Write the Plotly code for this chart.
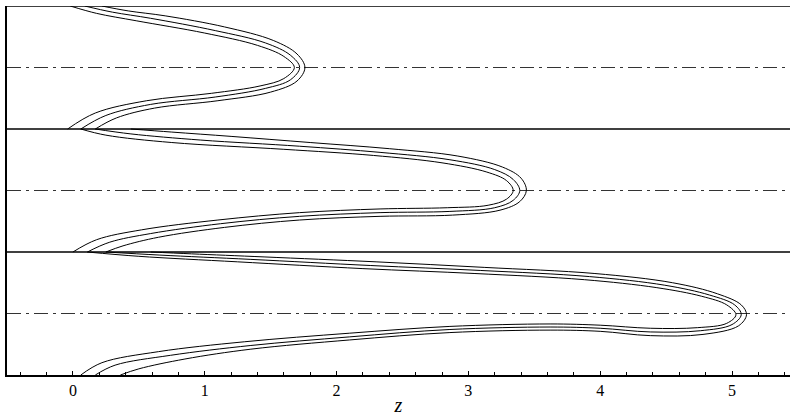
import plotly.graph_objects as go

# ---------------- data (z, transverse coordinate) ----------------
# top layer (between y=2 and y=3)
top_inner_x = [-0.02, 0.18, 0.48, 1.00, 1.40, 1.60, 1.68, 1.60, 1.42, 1.05, 0.56, 0.17, -0.04]
top_inner_y = [3.0, 2.94, 2.88, 2.78, 2.68, 2.59, 2.50, 2.41, 2.35, 2.29, 2.23, 2.13, 2.0]
top_mid_x = [0.09, 0.30, 0.59, 1.08, 1.46, 1.65, 1.72, 1.65, 1.46, 1.08, 0.59, 0.25, 0.06]
top_mid_y = [3.0, 2.95, 2.90, 2.80, 2.70, 2.60, 2.50, 2.40, 2.33, 2.26, 2.20, 2.11, 2.0]
top_outer_x = [0.22, 0.42, 0.70, 1.15, 1.52, 1.70, 1.76, 1.70, 1.50, 1.10, 0.62, 0.33, 0.17]
top_outer_y = [3.0, 2.96, 2.92, 2.83, 2.72, 2.61, 2.50, 2.39, 2.30, 2.23, 2.17, 2.09, 2.0]

# middle layer (between y=1 and y=2)
mid_inner_x = [0.06, 0.25, 0.75, 1.60, 2.28, 2.80, 3.14, 3.29, 3.34, 3.29, 3.15, 2.84, 2.33, 1.72, 1.10, 0.52, 0.18, 0.00]
mid_inner_y = [2.0, 1.95, 1.89, 1.835, 1.785, 1.725, 1.65, 1.58, 1.50, 1.43, 1.38, 1.36, 1.35, 1.32, 1.26, 1.18, 1.10, 1.0]
mid_mid_x = [0.17, 0.44, 0.97, 1.72, 2.33, 2.86, 3.20, 3.34, 3.39, 3.34, 3.20, 2.86, 2.33, 1.72, 1.12, 0.59, 0.28, 0.11]
mid_mid_y = [2.0, 1.96, 1.91, 1.86, 1.81, 1.75, 1.67, 1.59, 1.50, 1.42, 1.36, 1.33, 1.32, 1.29, 1.23, 1.15, 1.08, 1.0]
mid_outer_x = [0.44, 0.75, 1.20, 1.80, 2.40, 2.92, 3.26, 3.40, 3.44, 3.39, 3.24, 2.88, 2.33, 1.72, 1.15, 0.65, 0.38, 0.25]
mid_outer_y = [2.0, 1.975, 1.94, 1.89, 1.84, 1.78, 1.69, 1.60, 1.50, 1.41, 1.34, 1.30, 1.29, 1.26, 1.20, 1.12, 1.05, 1.0]

# bottom layer (between y=0 and y=1)
bot_inner_x = [0.11, 0.50, 1.25, 2.20, 3.05, 3.88, 4.43, 4.77, 4.96, 5.03, 4.96, 4.74, 4.38, 4.00, 3.62, 2.86, 2.10, 1.30, 0.65, 0.22, 0.06]
bot_inner_y = [1.0, 0.965, 0.92, 0.865, 0.825, 0.775, 0.71, 0.64, 0.57, 0.49, 0.42, 0.385, 0.38, 0.405, 0.415, 0.395, 0.34, 0.27, 0.19, 0.10, 0.0]
bot_mid_x = [0.25, 0.66, 1.35, 2.26, 3.09, 3.92, 4.49, 4.83, 5.02, 5.07, 5.00, 4.76, 4.38, 4.00, 3.62, 2.86, 2.10, 1.35, 0.74, 0.32, 0.17]
bot_mid_y = [1.0, 0.975, 0.94, 0.89, 0.85, 0.80, 0.73, 0.65, 0.57, 0.49, 0.41, 0.36, 0.35, 0.38, 0.39, 0.37, 0.31, 0.24, 0.16, 0.08, 0.0]
bot_outer_x = [0.59, 0.90, 1.45, 2.30, 3.12, 3.96, 4.55, 4.89, 5.07, 5.11, 5.05, 4.78, 4.38, 4.00, 3.62, 2.86, 2.10, 1.35, 0.85, 0.50, 0.36]
bot_outer_y = [1.0, 0.985, 0.96, 0.92, 0.875, 0.825, 0.75, 0.66, 0.57, 0.49, 0.40, 0.33, 0.32, 0.355, 0.365, 0.345, 0.285, 0.21, 0.13, 0.05, 0.0]

walls = [1.0, 2.0, 3.0]
centres = [0.5, 1.5, 2.5]
x_range = [-0.5, 5.44]
tick_vals = [0, 1, 2, 3, 4, 5]
tick_text = ["0", "1", "2", "3", "4", "5"]

curves = [
    (top_inner_x, top_inner_y), (top_mid_x, top_mid_y), (top_outer_x, top_outer_y),
    (mid_inner_x, mid_inner_y), (mid_mid_x, mid_mid_y), (mid_outer_x, mid_outer_y),
    (bot_inner_x, bot_inner_y), (bot_mid_x, bot_mid_y), (bot_outer_x, bot_outer_y),
]

fig = go.Figure()

for c in centres:
    fig.add_trace(go.Scatter(x=x_range, y=[c, c], mode="lines",
                             line=dict(color="#333333", width=1, dash="14px,5px,3px,5px"),
                             hoverinfo="skip", showlegend=False))
for w in walls:
    fig.add_trace(go.Scatter(x=x_range, y=[w, w], mode="lines",
                             line=dict(color="black", width=1.4),
                             hoverinfo="skip", showlegend=False))

for cx, cy in curves:
    fig.add_trace(go.Scatter(x=cx, y=cy, mode="lines",
                             line=dict(color="black", width=1, shape="spline", smoothing=1.0),
                             showlegend=False))

fig.update_layout(
    width=790, height=419,
    margin=dict(l=7, r=0, t=6, b=44),
    paper_bgcolor="white", plot_bgcolor="white",
    font=dict(family="Liberation Serif", size=16, color="black"),
    xaxis=dict(range=x_range, tickvals=tick_vals, ticktext=tick_text,
               tickfont=dict(family="Liberation Serif", size=16, color="black"),
               ticks="inside", ticklen=4, tickwidth=1, tickcolor="black",
               showline=True, linecolor="black", linewidth=1.5,
               showgrid=False, zeroline=False,
               minor=dict(dtick=0.2, tick0=0, ticks="inside", ticklen=3, tickcolor="black", showgrid=False),
               title=dict(text="<i>z</i>", font=dict(size=20, family="Liberation Serif"), standoff=0)),
    yaxis=dict(range=[0, 3], showline=True, linecolor="black", linewidth=1.5,
               showticklabels=False, ticks="", showgrid=False, zeroline=False),
)

fig.write_html("out.html")
